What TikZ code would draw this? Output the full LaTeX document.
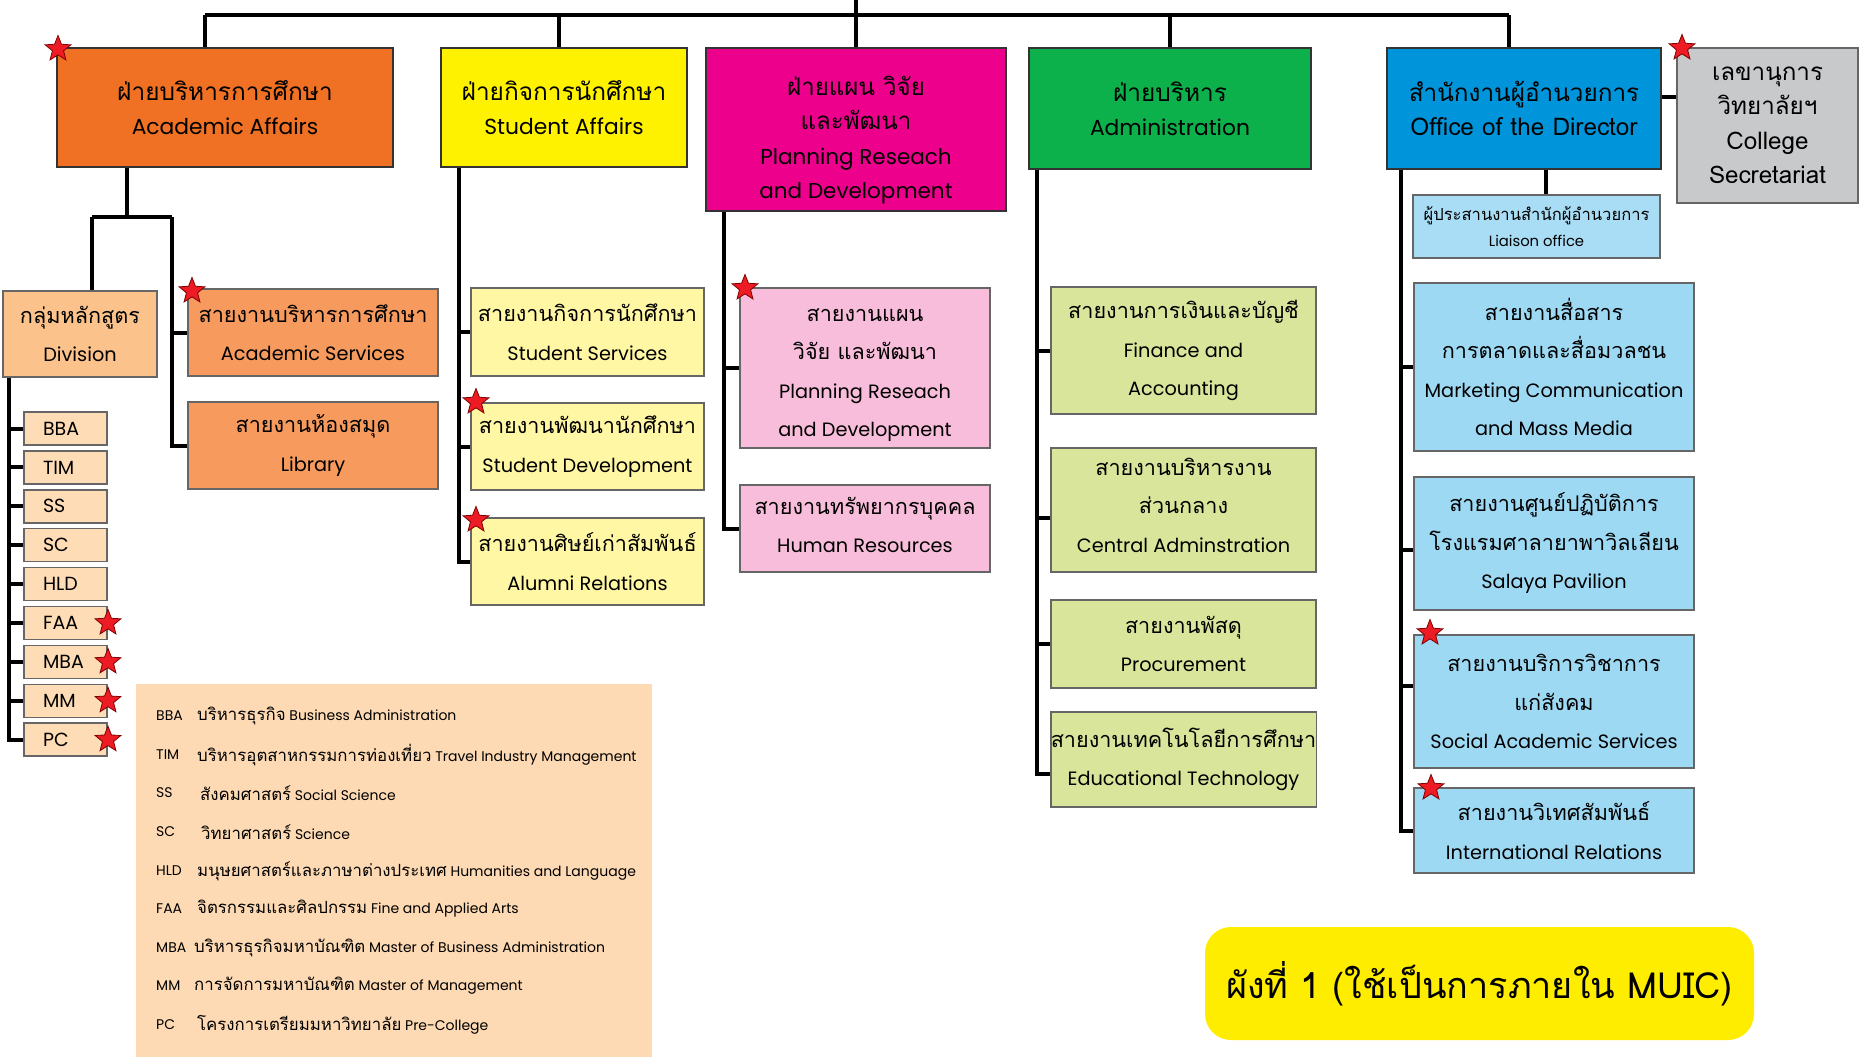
\documentclass[tikz,border=0pt]{standalone}
\usepackage{fontspec}
\setmainfont{Poppins}
\newfontfamily\thai[Script=Thai,Scale=1.12]{Loma}
\newfontfamily\tah[Script=Thai]{Loma}
\usetikzlibrary{shapes.geometric}
\definecolor{cAcad}{HTML}{F07124}
\definecolor{cStud}{HTML}{FFF200}
\definecolor{cPlan}{HTML}{EC008C}
\definecolor{cAdm}{HTML}{0DB14B}
\definecolor{cDir}{HTML}{0095DA}
\definecolor{cSec}{HTML}{C8C9CB}
\definecolor{cAcs}{HTML}{F69A5E}
\definecolor{cDiv}{HTML}{FBC28C}
\definecolor{cProg}{HTML}{FDDCB6}
\definecolor{cLeg}{HTML}{FDDAB3}
\definecolor{cYel}{HTML}{FFF7A3}
\definecolor{cPnk}{HTML}{F7BDDA}
\definecolor{cGrn}{HTML}{D8E59A}
\definecolor{cBlu}{HTML}{9ED9F4}
\definecolor{cLia}{HTML}{A8DDF5}
\definecolor{cTitle}{HTML}{FFED00}
\definecolor{cStar}{HTML}{ED1C24}
\newcommand\T[1]{{\thai #1}}
\newcommand\TL[1]{{\thai\fontsize{15}{16}\selectfont #1}}
\begin{document}
\begin{tikzpicture}[x=1pt,y=-1pt,
  topbox/.style={draw=black!80, line width=2pt, inner sep=0pt, align=center, font=\fontsize{21.8}{34}\selectfont},
  subbox/.style={draw=black!60, line width=1.5pt, inner sep=0pt, align=center, font=\fontsize{19.3}{38.5}\selectfont},
  subtxt/.style={inner sep=0pt, align=center, font=\fontsize{19.3}{38.5}\selectfont},
  progbox/.style={draw=black!60, line width=1.5pt, fill=cProg, minimum width=83pt, minimum height=33pt, inner ysep=0pt, inner xsep=19pt, text width=45pt, align=left, font=\fontsize{19}{20}\selectfont},
  conn/.style={line width=4pt, draw=black},
  redstar/.style={star, star points=5, star point ratio=2.3, fill=cStar, draw=black!50!red, line width=0.8pt, minimum size=27pt, inner sep=0pt},
  legab/.style={anchor=west, inner sep=0pt, font=\fontsize{14}{16}\selectfont},
]
\useasboundingbox (0,0) rectangle (1860,1057);
\fill[white] (0,0) rectangle (1860,1057);

% ---------- level 1 ----------
\node[topbox, fill=cAcad, minimum width=336pt, minimum height=119pt] (acad) at (225,107.5) {\T{ฝ่ายบริหารการศึกษา}\\Academic Affairs};
\node[topbox, fill=cStud, minimum width=246pt, minimum height=119pt] (stud) at (564,107.5) {\T{ฝ่ายกิจการนักศึกษา}\\Student Affairs};
\node[topbox, fill=cPlan, minimum width=300pt, minimum height=163pt] (plan) at (856,129.5) {};
\node[inner sep=0pt, align=center, font=\fontsize{21.5}{34.5}\selectfont] (plantxt) at (856,140) {\T{ฝ่ายแผน วิจัย}\\\T{และพัฒนา}\\Planning Reseach\\and Development};
\node[topbox, fill=cAdm, minimum width=282pt, minimum height=121pt] (admin) at (1170,108.5) {\T{ฝ่ายบริหาร}\\Administration};
\node[topbox, fill=cDir, minimum width=274pt, minimum height=121pt, font=\tah\fontsize{24.3}{34}\selectfont] (dir) at (1524,108.5) {สำนักงานผู้อำนวยการ\\Office of the Director};
\node[topbox, draw=black!60, fill=cSec, minimum width=181pt, minimum height=155pt, font=\tah\fontsize{24.2}{34.5}\selectfont] (sec) at (1767.5,125.5) {เลขานุการ\\วิทยาลัยฯ\\College\\Secretariat};

% ---------- academic branch ----------
\node[subbox, fill=cDiv, minimum width=154pt, minimum height=86pt] (div) at (80,334) {\T{กลุ่มหลักสูตร}\\Division};
\node[subbox, fill=cAcs, minimum width=250pt, minimum height=87pt] (acs) at (313,332.5) {\T{สายงานบริหารการศึกษา}\\Academic Services};
\node[subbox, fill=cAcs, minimum width=250pt, minimum height=87pt] (lib) at (313,445.5) {\T{สายงานห้องสมุด}\\Library};

\node[progbox] (bba) at (65.5,428.5) {BBA};
\node[progbox] (tim) at (65.5,467.4) {TIM};
\node[progbox] (ss) at (65.5,506.3) {SS};
\node[progbox] (sc) at (65.5,545.2) {SC};
\node[progbox] (hld) at (65.5,584.1) {HLD};
\node[progbox] (faa) at (65.5,623.0) {FAA};
\node[progbox] (mba) at (65.5,661.9) {MBA};
\node[progbox] (mm) at (65.5,700.8) {MM};
\node[progbox] (pc) at (65.5,739.7) {PC};

% ---------- student affairs branch ----------
\node[subbox, fill=cYel, minimum width=233pt, minimum height=88pt] (ssv) at (587.5,332) {\T{สายงานกิจการนักศึกษา}\\Student Services};
\node[subbox, fill=cYel, minimum width=233pt, minimum height=87pt] (sdv) at (587.5,446.5) {\T{สายงานพัฒนานักศึกษา}\\Student Development};
\node[subbox, fill=cYel, minimum width=233pt, minimum height=87pt] (alu) at (587.5,561.5) {\T{สายงานศิษย์เก่าสัมพันธ์}\\Alumni Relations};

% ---------- planning branch ----------
\node[subbox, fill=cPnk, minimum width=250pt, minimum height=160pt] (prd) at (865,368) {};
\node[subtxt] (prdtxt) at (865,375) {\T{สายงานแผน}\\\T{วิจัย และพัฒนา}\\Planning Reseach\\and Development};
\node[subbox, fill=cPnk, minimum width=250pt, minimum height=87pt] (hr) at (865,528.5) {};
\node[subtxt] (hrtxt) at (865,525) {\T{สายงานทรัพยากรบุคคล}\\Human Resources};

% ---------- administration branch ----------
\node[subbox, fill=cGrn, minimum width=265pt, minimum height=127pt] (fin) at (1183.5,350.5) {\T{สายงานการเงินและบัญชี}\\Finance and\\Accounting};
\node[subbox, fill=cGrn, minimum width=265pt, minimum height=124pt] (cen) at (1183.5,510) {};
\node[subtxt] (centxt) at (1183.5,505) {\T{สายงานบริหารงาน}\\\T{ส่วนกลาง}\\Central Adminstration};
\node[subbox, fill=cGrn, minimum width=265pt, minimum height=88pt] (pro) at (1183.5,644) {\T{สายงานพัสดุ}\\Procurement};
\node[subbox, fill=cGrn, minimum width=265pt, minimum height=95pt] (edu) at (1183.5,759.5) {\T{สายงานเทคโนโลยีการศึกษา}\\Educational Technology};

% ---------- director branch ----------
\node[subbox, fill=cLia, minimum width=247pt, minimum height=63pt, font=\fontsize{14.8}{26}\selectfont] (lia) at (1536.5,226.5) {\T{ผู้ประสานงานสำนักผู้อำนวยการ}\\Liaison office};
\node[subbox, fill=cBlu, minimum width=280pt, minimum height=168pt] (mkt) at (1554,367) {\T{สายงานสื่อสาร}\\\T{การตลาดและสื่อมวลชน}\\Marketing Communication\\and Mass Media};
\node[subbox, fill=cBlu, minimum width=280pt, minimum height=133pt] (sal) at (1554,543.5) {\T{สายงานศูนย์ปฏิบัติการ}\\\T{โรงแรมศาลายาพาวิลเลียน}\\Salaya Pavilion};
\node[subbox, fill=cBlu, minimum width=280pt, minimum height=133pt] (sas) at (1554,701.5) {\T{สายงานบริการวิชาการ}\\\T{แก่สังคม}\\Social Academic Services};
\node[subbox, fill=cBlu, minimum width=280pt, minimum height=85pt] (ir) at (1554,830.5) {\T{สายงานวิเทศสัมพันธ์}\\International Relations};

% ---------- connectors ----------
\coordinate (root) at (856,0);
\coordinate (tl) at (205,15);
\coordinate (tr) at (1509,15);
\coordinate (t2) at (559,15);
\coordinate (t4) at (1170,15);
\draw[conn] (tl) -- (tr);
\draw[conn] (root) -- (root |- tl);
\draw[conn] (tl) -- (tl |- acad.north);
\draw[conn] (t2) -- (t2 |- stud.north);
\draw[conn] (plan.north) -- (plan.north |- tl);
\draw[conn] (t4) -- (t4 |- admin.north);
\draw[conn] (tr) -- (tr |- dir.north);

\coordinate (a1) at (127,217);
\coordinate (a2) at (92,217);
\coordinate (a3) at (172,217);
\draw[conn] (a1 |- acad.south) -- (a1);
\draw[conn] (a2) -- (a3);
\draw[conn] (a2) -- (a2 |- div.north);
\draw[conn] (a3) |- (lib.west);
\draw[conn] (a3 |- acs.west) -- (acs.west);

\coordinate (d0) at (9,0);
\draw[conn] (d0 |- div.south) |- (pc.west);
\foreach \n in {bba,tim,ss,sc,hld,faa,mba,mm}{\draw[conn] (d0 |- \n.west) -- (\n.west);}

\coordinate (y0) at (459,0);
\draw[conn] (y0 |- stud.south) |- (alu.west);
\draw[conn] (y0 |- ssv.west) -- (ssv.west);
\draw[conn] (y0 |- sdv.west) -- (sdv.west);

\coordinate (p0) at (724,0);
\draw[conn] (p0 |- plan.south) |- (hr.west);
\draw[conn] (p0 |- prd.west) -- (prd.west);

\coordinate (g0) at (1037,0);
\coordinate (ge) at (1037,774);
\coordinate (gc) at (1037,518);
\draw[conn] (g0 |- admin.south) -- (ge) -- (ge -| edu.west);
\draw[conn] (g0 |- fin.west) -- (fin.west);
\draw[conn] (gc) -- (gc -| cen.west);
\draw[conn] (g0 |- pro.west) -- (pro.west);

\coordinate (b0) at (1401,0);
\coordinate (bs) at (1401,550);
\coordinate (bq) at (1401,686);
\draw[conn] (b0 |- dir.south) |- (ir.west);
\draw[conn] (b0 |- mkt.west) -- (mkt.west);
\draw[conn] (bs) -- (bs -| sal.west);
\draw[conn] (bq) -- (bq -| sas.west);

\coordinate (l0) at (1546,0);
\draw[conn] (l0 |- dir.south) -- (l0 |- lia.north);
\coordinate (ds) at (0,97);
\draw[conn] (ds -| dir.east) -- (ds -| sec.west);

% ---------- stars ----------
\node[redstar] (s1) at (58,49) {};
\node[redstar] (s2) at (192,291) {};
\node[redstar] (s3) at (476,402) {};
\node[redstar] (s4) at (476,520) {};
\node[redstar] (s5) at (745,288) {};
\node[redstar] (s6) at (1682,48) {};
\node[redstar] (s7) at (1430,633) {};
\node[redstar] (s8) at (1431,788) {};
\node[redstar] (s9) at (108,623.0) {};
\node[redstar] (s10) at (108,661.9) {};
\node[redstar] (s11) at (108,700.8) {};
\node[redstar] (s12) at (108,739.7) {};

% ---------- legend ----------
\node[fill=cLeg, minimum width=516pt, minimum height=373pt, inner sep=0pt] (leg) at (394,870.5) {};
\node[legab] (la1) at (156,716) {BBA};
\node[legab] (lb1) at (197,716) {\TL{บริหารธุรกิจ} Business Administration};
\node[legab] (la2) at (156,755) {TIM};
\node[legab] (lb2) at (197,755) {\TL{บริหารอุตสาหกรรมการท่องเที่ยว} Travel Industry Management};
\node[legab] (la3) at (156,793) {SS};
\node[legab] (lb3) at (200,793) {\TL{สังคมศาสตร์} Social Science};
\node[legab] (la4) at (156,832) {SC};
\node[legab] (lb4) at (201,832) {\TL{วิทยาศาสตร์} Science};
\node[legab] (la5) at (156,871) {HLD};
\node[legab] (lb5) at (197,871) {\TL{มนุษยศาสตร์และภาษาต่างประเทศ} Humanities and Language};
\node[legab] (la6) at (156,909) {FAA};
\node[legab] (lb6) at (197,909) {\TL{จิตรกรรมและศิลปกรรม} Fine and Applied Arts};
\node[legab] (la7) at (156,948) {MBA};
\node[legab] (lb7) at (194,948) {\TL{บริหารธุรกิจมหาบัณฑิต} Master of Business Administration};
\node[legab] (la8) at (156,986) {MM};
\node[legab] (lb8) at (194,986) {\TL{การจัดการมหาบัณฑิต} Master of Management};
\node[legab] (la9) at (156,1025) {PC};
\node[legab] (lb9) at (197,1025) {\TL{โครงการเตรียมมหาวิทยาลัย} Pre-College};

% ---------- title ----------
\node[fill=cTitle, rounded corners=26pt, minimum width=549pt, minimum height=113pt, inner sep=0pt, font=\tah\fontsize{36}{40}\selectfont] (title) at (1479.5,983.5) {ผังที่ 1 (ใช้เป็นการภายใน MUIC)};
\end{tikzpicture}
\end{document}
